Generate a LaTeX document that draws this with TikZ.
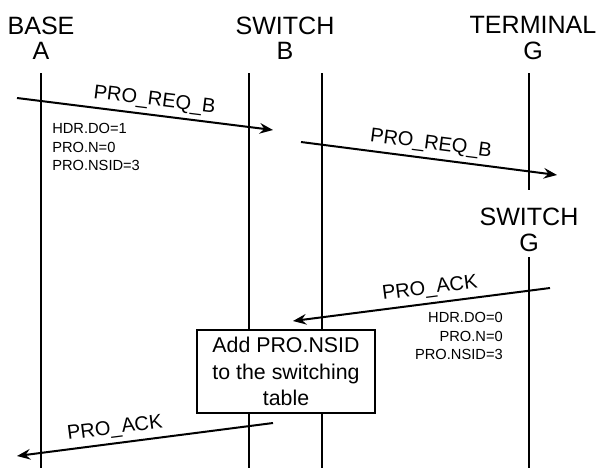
\documentclass[tikz,border=0pt]{standalone}
\usepackage{fontspec}
\setmainfont{Liberation Sans}
\usetikzlibrary{arrows.meta}
\begin{document}
\begin{tikzpicture}[x=0.75pt, y=-0.75pt,
    entite/.style={align=center, inner sep=0pt, font=\fontsize{18.8}{19}\selectfont},
    vie/.style={line width=2.2pt},
    fleche/.style={-{Stealth[length=10pt, width=8pt, inset=3.5pt]}, line width=1.5pt},
    message/.style={above, sloped, font=\fontsize{15}{18}\selectfont},
    note/.style={inner sep=0pt, font=\fontsize{11}{13.9}\selectfont},
    boite/.style={draw, line width=1.5pt, fill=white, align=center,
                  minimum width=133.5pt, minimum height=62.25pt,
                  font=\fontsize{16}{19.9}\selectfont}
]
    \useasboundingbox (0,0) rectangle (598,468);

    \node[entite] (base) at (41,38) {BASE\\A};
    \node[entite] (switchb) at (285,38) {SWITCH\\B};
    \node[entite] (terminal) at (533,38) {TERMINAL\\G};
    \node[entite] (switchg) at (529,230) {SWITCH\\G};

    \coordinate (a0) at (41,73);   \coordinate (a1) at (41,468);
    \coordinate (b0) at (249,73);  \coordinate (b1) at (249,468);
    \coordinate (c0) at (322,73);  \coordinate (c1) at (322,468);
    \coordinate (g0) at (529,73);  \coordinate (g1) at (529,190);
    \coordinate (g2) at (529,257); \coordinate (g3) at (529,468);

    \draw[vie] (a0) -- (a1);
    \draw[vie] (b0) -- (b1);
    \draw[vie] (c0) -- (c1);
    \draw[vie] (g0) -- (g1);
    \draw[vie] (g2) -- (g3);

    \node[boite] (table) at (286,371.5) {Add PRO.NSID\\to the switching\\table};

    \coordinate (req1) at (17,98);   \coordinate (req1b) at (273,130);
    \coordinate (req2) at (301,142); \coordinate (req2b) at (557,175);
    \coordinate (ack1) at (550,288); \coordinate (ack1b) at (293,321);
    \coordinate (ack2) at (273,423); \coordinate (ack2b) at (17,456);

    \draw[fleche] (req1) -- (req1b) node[message, pos=0.53] {PRO\_REQ\_B};
    \draw[fleche] (req2) -- (req2b) node[message, pos=0.5] {PRO\_REQ\_B};
    \draw[fleche] (ack1) -- (ack1b) node[message, pos=0.46] {PRO\_ACK};
    \draw[fleche] (ack2) -- (ack2b) node[message, pos=0.61] {PRO\_ACK};

    \node[note, align=left, anchor=north west] (hdr1) at (52,123) {HDR.DO=1\\PRO.N=0\\PRO.NSID=3};
    \node[note, align=right, anchor=north east] (hdr2) at (503,312) {HDR.DO=0\\PRO.N=0\\PRO.NSID=3};
\end{tikzpicture}
\end{document}
